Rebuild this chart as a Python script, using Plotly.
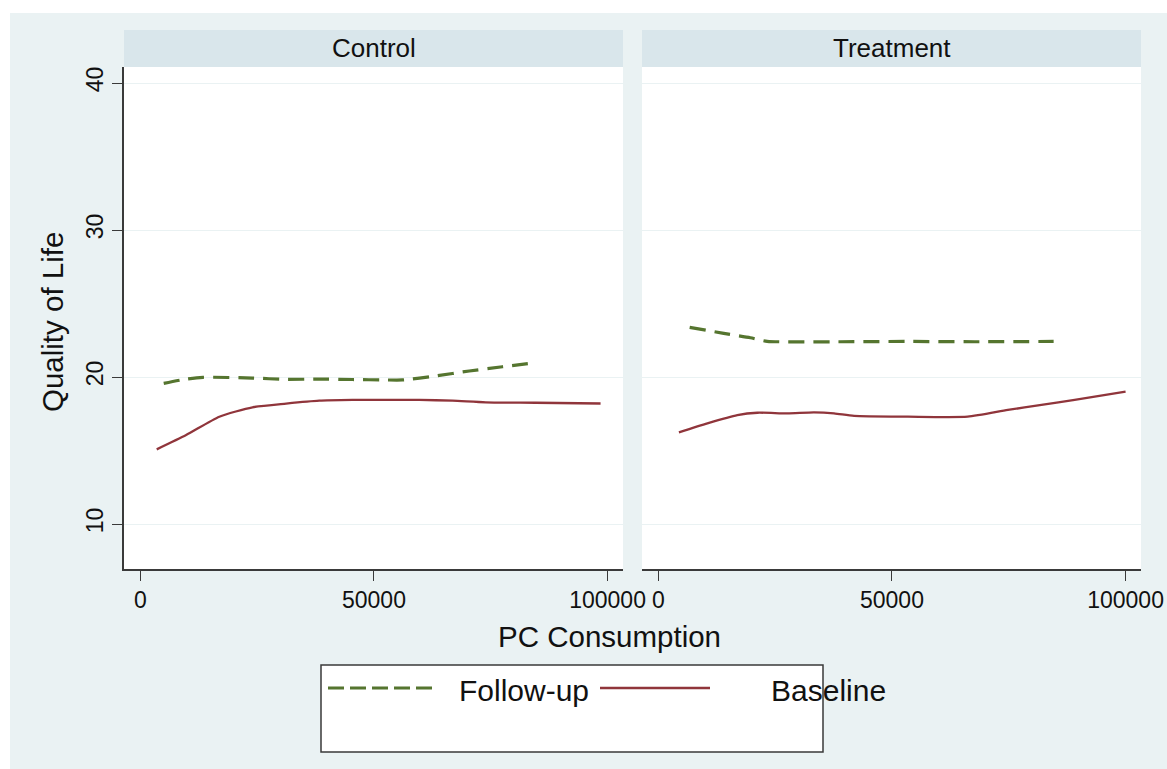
import plotly.graph_objects as go
from plotly.subplots import make_subplots

# ---- data ----
panels = ["Control", "Treatment"]
series_names = ["Follow-up", "Baseline"]

ctrl_base_x = [3500, 9800, 16900, 24000, 31200, 38300, 45400, 52500, 59700, 66800, 73900, 84600, 98500]
ctrl_base_y = [15.08, 16.05, 17.30, 17.94, 18.19, 18.39, 18.44, 18.45, 18.44, 18.39, 18.28, 18.25, 18.20]

ctrl_fu_x = [5000, 9800, 13400, 24000, 31200, 38300, 45400, 52600, 56100, 63200, 70400, 77500, 83900]
ctrl_fu_y = [19.57, 19.86, 19.98, 19.93, 19.84, 19.86, 19.83, 19.80, 19.80, 20.07, 20.41, 20.70, 20.95]

treat_base_x = [4400, 10500, 16900, 21200, 27600, 33300, 37600, 41900, 53400, 66200, 74800, 82000, 89100, 100000]
treat_base_y = [16.24, 16.85, 17.41, 17.57, 17.53, 17.60, 17.53, 17.35, 17.30, 17.30, 17.76, 18.10, 18.44, 19.00]

treat_fu_x = [6700, 14000, 19700, 23300, 39000, 53000, 67700, 84600]
treat_fu_y = [23.38, 22.97, 22.67, 22.43, 22.40, 22.42, 22.40, 22.42]

x_ticks = [0, 50000, 100000]
x_ticklabels = ["0", "50000", "100000"]
y_ticks = [10, 20, 30, 40]

# ---- style ----
W, H = 1167, 769
ML, MR, MT, MB = 124, 26, 67, 200
PW = W - ML - MR
PH = H - MT - MB
BG = "#EAF2F3"
STRIP = "#D9E6EB"
GREEN = "#55752F"
MAROON = "#90353B"
AXC = "#3a3a3a"
FONT = "Liberation Sans, Arial, Helvetica, sans-serif"


def px(xp):
    return (xp - ML) / PW


def py(yp):
    return (H - MB - yp) / PH


fig = make_subplots(rows=1, cols=2, shared_yaxes=True, horizontal_spacing=19 / PW)

fu_line = dict(color=GREEN, width=3.2, dash="16px,9px", shape="spline", smoothing=0.6)
base_line = dict(color=MAROON, width=2.3, shape="spline", smoothing=0.6)

fig.add_trace(go.Scatter(x=ctrl_fu_x, y=ctrl_fu_y, mode="lines", name=series_names[0],
                         line=fu_line, showlegend=False), row=1, col=1)
fig.add_trace(go.Scatter(x=ctrl_base_x, y=ctrl_base_y, mode="lines", name=series_names[1],
                         line=base_line, showlegend=False), row=1, col=1)
fig.add_trace(go.Scatter(x=treat_fu_x, y=treat_fu_y, mode="lines", name=series_names[0],
                         line=fu_line, showlegend=False), row=1, col=2)
fig.add_trace(go.Scatter(x=treat_base_x, y=treat_base_y, mode="lines", name=series_names[1],
                         line=base_line, showlegend=False), row=1, col=2)

xcommon = dict(range=[-3500, 103300], tickvals=x_ticks, ticktext=x_ticklabels, showgrid=False,
               zeroline=False, showline=True, linecolor=AXC, linewidth=1.5, ticks="outside",
               ticklen=10, tickwidth=1.2, tickcolor=AXC, automargin=False,
               tickfont=dict(size=23, color="#111", family=FONT))
fig.update_xaxes(**xcommon)
fig.update_yaxes(range=[6.94, 41.09], tickvals=y_ticks, showgrid=True, gridcolor=BG, gridwidth=1,
                 zeroline=False, automargin=False)
fig.update_yaxes(showline=True, linecolor=AXC, linewidth=1.5, ticks="outside", ticklen=10,
                 tickwidth=1.2, tickcolor=AXC, tickangle=-90,
                 tickfont=dict(size=23, color="#111", family=FONT), row=1, col=1)
fig.update_yaxes(showticklabels=False, ticks="", showline=False, row=1, col=2)

shapes = [
    dict(type="rect", xref="paper", yref="paper", x0=px(0), x1=px(W), y0=py(13), y1=py(0),
         fillcolor="white", line=dict(width=0), layer="above"),
    dict(type="rect", xref="paper", yref="paper", x0=px(0), x1=px(10), y0=py(H), y1=py(0),
         fillcolor="white", line=dict(width=0), layer="above"),
]
annotations = []
dom1 = fig.layout.xaxis.domain
dom2 = fig.layout.xaxis2.domain
for name, dom in zip(panels, [dom1, dom2]):
    shapes.append(dict(type="rect", xref="paper", yref="paper", x0=dom[0], x1=dom[1],
                       y0=py(67), y1=py(30), fillcolor=STRIP, line=dict(width=0)))
    annotations.append(dict(text=name, xref="paper", yref="paper", x=(dom[0] + dom[1]) / 2,
                            y=py(48), xanchor="center", yanchor="middle", showarrow=False,
                            font=dict(size=26, color="#111", family=FONT)))

annotations.append(dict(text="PC Consumption", xref="paper", yref="paper", x=px(609), y=py(637),
                        xanchor="center", yanchor="middle", showarrow=False,
                        font=dict(size=29.5, color="#111", family=FONT)))
annotations.append(dict(text="Quality of Life", xref="paper", yref="paper", x=px(52), y=py(322),
                        xanchor="center", yanchor="middle", showarrow=False, textangle=-90,
                        font=dict(size=29.5, color="#111", family=FONT)))

# legend (drawn manually to match the long sample lines)
shapes.append(dict(type="rect", xref="paper", yref="paper", x0=px(321), x1=px(823),
                   y0=py(752), y1=py(665), fillcolor="white", line=dict(color=AXC, width=1.5)))
shapes.append(dict(type="line", xref="paper", yref="paper", x0=px(328), x1=px(438),
                   y0=py(688), y1=py(688), line=dict(color=GREEN, width=3.2, dash="16px,6px")))
shapes.append(dict(type="line", xref="paper", yref="paper", x0=px(600), x1=px(710),
                   y0=py(688), y1=py(688), line=dict(color=MAROON, width=2.3)))
annotations.append(dict(text=series_names[0], xref="paper", yref="paper", x=px(457), y=py(690),
                        xanchor="left", yanchor="middle", showarrow=False,
                        font=dict(size=30, color="#111", family=FONT)))
annotations.append(dict(text=series_names[1], xref="paper", yref="paper", x=px(769), y=py(690),
                        xanchor="left", yanchor="middle", showarrow=False,
                        font=dict(size=30, color="#111", family=FONT)))

fig.update_layout(width=W, height=H, margin=dict(l=ML, r=MR, t=MT, b=MB, autoexpand=False),
                  paper_bgcolor=BG, plot_bgcolor="white", showlegend=False,
                  shapes=shapes, annotations=annotations, font=dict(family=FONT))

fig.write_html("out.html", config={"displayModeBar": False},
               post_script="document.body.style.margin='0px';")
